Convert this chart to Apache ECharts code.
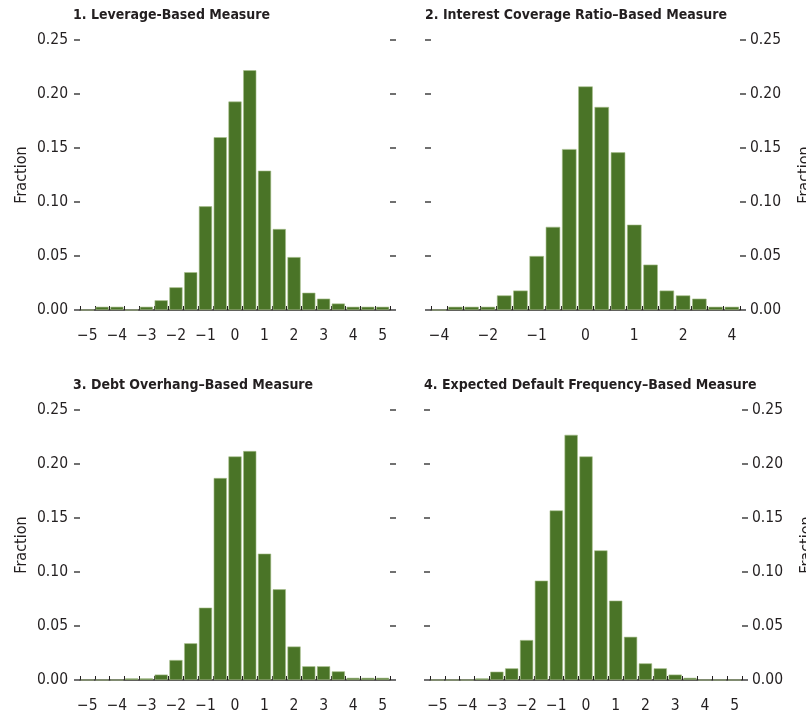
<!DOCTYPE html>
<html>
<head>
<meta charset="utf-8">
<script src="https://cdn.jsdelivr.net/npm/echarts@6/dist/echarts.min.js"></script>
<style>
  html, body { margin: 0; padding: 0; background: #fff; }
  #chart { width: 806px; height: 714px; }
</style>
</head>
<body>
<div id="chart"></div>
<script>
// Histogram bins (standardized measure), width 0.5, centred on -5 ... 5
const wideBins = [-5, -4.5, -4, -3.5, -3, -2.5, -2, -1.5, -1, -0.5, 0, 0.5, 1, 1.5, 2, 2.5, 3, 3.5, 4, 4.5, 5];
const wideTickLabels = ['−5', '', '−4', '', '−3', '', '−2', '', '−1', '', '0', '', '1', '', '2', '', '3', '', '4', '', '5'];

// Interest coverage panel uses 19 narrower bins
const narrowBins = [0, 1, 2, 3, 4, 5, 6, 7, 8, 9, 10, 11, 12, 13, 14, 15, 16, 17, 18];
const narrowTickLabels = ['−4', '', '', '−2', '', '', '−1', '', '', '0', '', '', '1', '', '', '2', '', '', '4'];

// Fractions of firms in each bin
const leverage = [0, 0.003, 0.003, 0, 0.003, 0.009, 0.021, 0.035, 0.096, 0.160, 0.193, 0.222, 0.129, 0.075, 0.049, 0.016, 0.0105, 0.006, 0.003, 0.003, 0.003];
const interestCoverage = [0, 0.003, 0.003, 0.003, 0.0135, 0.018, 0.050, 0.077, 0.149, 0.207, 0.188, 0.146, 0.079, 0.042, 0.018, 0.0135, 0.0105, 0.003, 0.003];
const debtOverhang = [0, 0, 0, 0.0015, 0.0015, 0.005, 0.0185, 0.034, 0.067, 0.187, 0.207, 0.212, 0.117, 0.084, 0.031, 0.0127, 0.0127, 0.008, 0.002, 0.002, 0.002];
const expectedDefault = [0, 0, 0, 0.0015, 0.0077, 0.0108, 0.037, 0.092, 0.157, 0.227, 0.207, 0.120, 0.0735, 0.040, 0.0154, 0.0108, 0.005, 0.002, 0, 0, 0];

const panelTitles = [
  '1. Leverage-Based Measure',
  '2. Interest Coverage Ratio–Based Measure',
  '3. Debt Overhang–Based Measure',
  '4. Expected Default Frequency–Based Measure'
];

const FONT = '"DejaVu Sans Condensed", "Liberation Sans Narrow", "Noto Sans", sans-serif';
const INK = '#231f20';
const BAR = '#4a7427';

const grids = [
  { left: 80, top: 40, width: 310, height: 270 },
  { left: 431, top: 40, width: 309, height: 270 },
  { left: 80, top: 410, width: 310, height: 270 },
  { left: 430, top: 410, width: 312, height: 270 }
].map(g => Object.assign({ containLabel: false, outerBoundsMode: 'none' }, g));

const panels = [
  { bins: wideBins, labels: wideTickLabels, values: leverage, labelSide: 'left' },
  { bins: narrowBins, labels: narrowTickLabels, values: interestCoverage, labelSide: 'right' },
  { bins: wideBins, labels: wideTickLabels, values: debtOverhang, labelSide: 'left' },
  { bins: wideBins, labels: wideTickLabels, values: expectedDefault, labelSide: 'right' }
];

const xAxes = [], yAxes = [], series = [], titles = [];

panels.forEach((p, i) => {
  const g = grids[i];
  titles.push({
    text: panelTitles[i],
    left: g.left - (p.labelSide === 'left' ? 7 : 6),
    top: g.top - 32,
    padding: 0,
    textStyle: { fontFamily: FONT, fontSize: 14, fontWeight: 'bold', color: INK }
  });

  xAxes.push({
    type: 'category',
    gridIndex: i,
    data: p.bins.map(String),
    boundaryGap: true,
    axisLine: { show: true, lineStyle: { color: INK, width: 1.5 } },
    axisTick: { show: true, inside: true, length: 4, interval: 0, alignWithLabel: false,
                lineStyle: { color: INK, width: 1 } },
    axisLabel: {
      interval: 0,
      margin: 18,
      fontFamily: FONT, fontSize: 15.5, color: INK,
      formatter: (v, idx) => p.labels[idx]
    },
    splitLine: { show: false }
  });

  ['left', 'right'].forEach(side => {
    const withLabels = side === p.labelSide;
    yAxes.push({
      type: 'value',
      gridIndex: i,
      position: side,
      min: 0, max: 0.25, interval: 0.05,
      name: withLabels ? 'Fraction' : '',
      nameLocation: 'middle',
      nameGap: side === 'left' ? 50 : 57,
      nameRotate: 90,
      nameTextStyle: { fontFamily: FONT, fontSize: 16, color: INK },
      axisLine: { show: false },
      axisTick: { show: true, inside: false, length: 6, lineStyle: { color: '#4d4d4d', width: 1.6 } },
      axisLabel: {
        show: withLabels,
        margin: side === 'left' ? 12 : 10,
        fontFamily: FONT, fontSize: 15.5, color: INK,
        formatter: v => v.toFixed(2)
      },
      splitLine: { show: false }
    });
  });

  series.push({
    type: 'bar',
    xAxisIndex: i,
    yAxisIndex: i * 2,
    data: p.values,
    barCategoryGap: '11%',
    itemStyle: { color: BAR, borderColor: '#a7bf8c', borderWidth: 0.6 },
    emphasis: { disabled: true }
  });
});

const chart = echarts.init(document.getElementById('chart'), null, { renderer: 'canvas' });
chart.setOption({
  animation: false,
  backgroundColor: '#fff',
  title: titles,
  grid: grids,
  xAxis: xAxes,
  yAxis: yAxes,
  series: series
});
</script>
</body>
</html>
